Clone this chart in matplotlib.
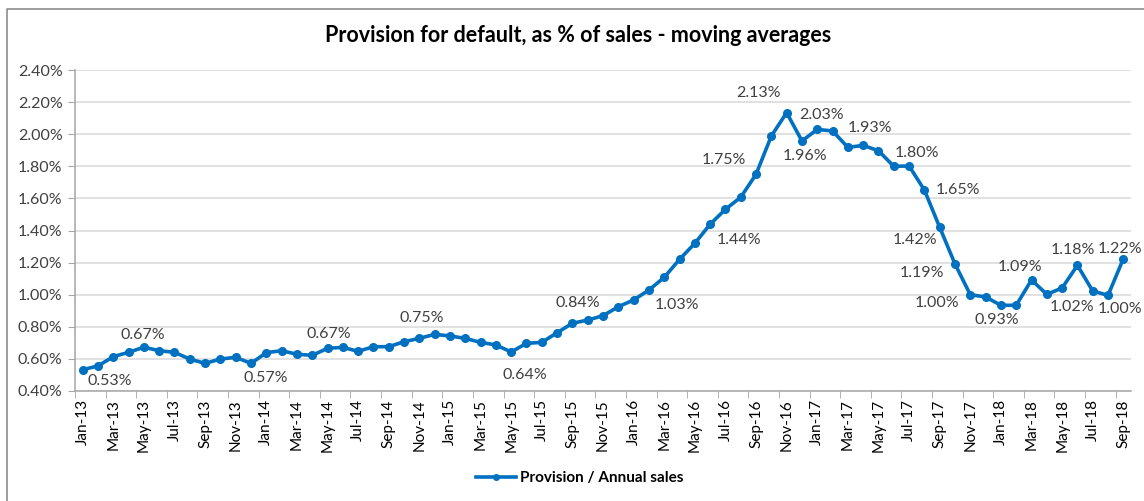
import numpy as np
import pandas as pd
import matplotlib
matplotlib.use('Agg')
import matplotlib.pyplot as plt
from matplotlib.lines import Line2D

# monthly moving average, provision as % of annual sales (Jan-13 .. Sep-18)
months = pd.date_range('2013-01-01', periods=69, freq='MS').strftime('%b-%y').tolist()
provision_pct = [
    0.533, 0.556, 0.614, 0.641, 0.673, 0.651, 0.641, 0.599, 0.572, 0.599, 0.610, 0.572,
    0.639, 0.651, 0.629, 0.622, 0.666, 0.672, 0.647, 0.676, 0.676, 0.707, 0.728, 0.753,
    0.743, 0.728, 0.703, 0.687, 0.643, 0.697, 0.703, 0.763, 0.822, 0.842, 0.869, 0.925,
    0.967, 1.029, 1.108, 1.220, 1.320, 1.439, 1.532, 1.607, 1.750, 1.989, 2.134, 1.958,
    2.030, 2.020, 1.918, 1.930, 1.897, 1.800, 1.802, 1.652, 1.420, 1.191, 1.000, 0.986,
    0.934, 0.934, 1.092, 1.002, 1.042, 1.183, 1.023, 0.996, 1.224,
]
y_ticks = [0.40, 0.60, 0.80, 1.00, 1.20, 1.40, 1.60, 1.80, 2.00, 2.20, 2.40]

# which points carry a data label, and where the label sits (pixels, dx / dy down)
label_idx = [0, 4, 11, 16, 23, 28, 33, 37, 41, 44, 46, 47, 48, 51, 54, 55, 56, 57, 58, 60, 62, 65, 66, 67, 68]
label_off = [(27, 11), (-1, -12), (15, 15), (1, -14), (-13, -16), (14, 23), (-10, -17), (28, 15),
             (29, 16), (-32, -14), (-28, -20), (3, 15), (4, -14), (7, -17), (8, -13), (34, 0),
             (-25, 13), (-33, 9), (-33, 8), (-4, 15), (-12, -13), (-5, -15), (-21, 16), (12, 14), (-3, -10)]

BLUE = '#0070C0'
TXT = '#404040'
FONT = ['Lato', 'DejaVu Sans']
plt.rcParams['font.family'] = FONT

fig = plt.figure(figsize=(11.44, 5.01), dpi=100)
ax = fig.add_axes([75 / 1144, 110 / 501, 1056 / 1144, 321 / 501])

x = np.arange(len(provision_pct))
ax.plot(x, provision_pct, color=BLUE, lw=2.6, marker='o', ms=5.5,
        solid_joinstyle='round', label='Provision / Annual sales', zorder=3)

for i, (dx, dy) in zip(label_idx, label_off):
    ax.annotate(f'{provision_pct[i]:.2f}%', (x[i], provision_pct[i]), xytext=(dx, -dy),
                textcoords='offset pixels', ha='center', va='center',
                fontsize=11.5, color=TXT)

ax.set_xlim(-0.5, len(x) - 0.5)
ax.set_ylim(0.40, 2.40)
ax.set_yticks(y_ticks)
ax.set_yticklabels([f'{v:.2f}%' for v in y_ticks], fontsize=11.5, color=TXT)
ax.grid(axis='y', color='#d9d9d9', lw=1.1)
ax.set_axisbelow(True)

ax.set_xticks(x[::2])
ax.set_xticklabels(months[::2], rotation=90, fontsize=11, color='black')
ax.set_xticks(np.arange(-0.5, len(x), 2), minor=True)
ax.tick_params(axis='x', which='major', length=0, pad=6)
ax.tick_params(axis='x', which='minor', length=5, color='#a6a6a6')
ax.tick_params(axis='y', length=5, color='#a6a6a6', pad=4)

for s in ['top', 'right']:
    ax.spines[s].set_visible(False)
for s in ['left', 'bottom']:
    ax.spines[s].set_color('#a6a6a6')
    ax.spines[s].set_linewidth(1.1)

fig.text(578 / 1144, 1 - 36 / 501, 'Provision for default, as % of sales - moving averages',
         ha='center', va='center', fontsize=15.5, fontweight='bold', color='black')

leg_handle = Line2D([], [], color=BLUE, lw=2.6, marker='o', ms=4)
fig.legend([leg_handle], ['Provision / Annual sales'], loc='center',
           bbox_to_anchor=(580 / 1144, 1 - 478 / 501), frameon=False, handlelength=2.6,
           handletextpad=0.3, prop={'family': FONT, 'weight': 'bold', 'size': 11})

# chart-area border (top and left edges visible in the crop)
fig.add_artist(Line2D([7 / 1144, 7 / 1144, 1.0], [0.0, 1 - 9 / 501, 1 - 9 / 501],
                      transform=fig.transFigure, color='#8c8c8c', lw=1.2))

fig.savefig('out.png', dpi=100)
